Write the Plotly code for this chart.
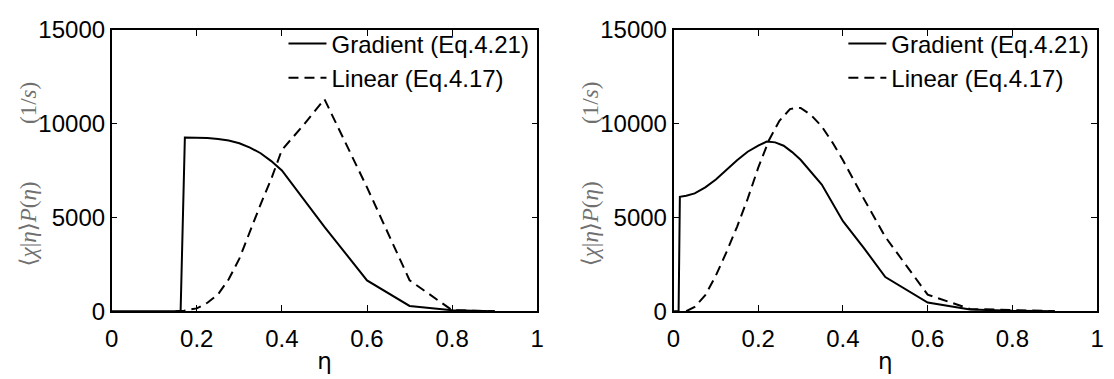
import plotly.graph_objects as go

# ---------------- data ----------------
eta_grad_left = [0, 0.05, 0.10, 0.15, 0.162, 0.172, 0.20, 0.225, 0.25, 0.275, 0.30, 0.325, 0.35, 0.375, 0.40, 0.50, 0.60, 0.70, 0.80, 0.90]
grad_left = [0, 0, 0, 0, 0, 9260, 9250, 9230, 9180, 9100, 8950, 8720, 8420, 8000, 7500, 4500, 1640, 280, 50, 0]

eta_lin_left = [0.15, 0.17, 0.20, 0.225, 0.25, 0.275, 0.30, 0.325, 0.35, 0.375, 0.40, 0.45, 0.50, 0.60, 0.70, 0.80, 0.90]
lin_left = [0, 30, 150, 450, 900, 1700, 2800, 4300, 5700, 7050, 8600, 9900, 11300, 6600, 1650, 50, 0]

eta_grad_right = [0, 0.012, 0.015, 0.03, 0.05, 0.075, 0.10, 0.125, 0.15, 0.175, 0.20, 0.22, 0.24, 0.26, 0.28, 0.30, 0.35, 0.40, 0.45, 0.50, 0.60, 0.70, 0.80, 0.90]
grad_right = [0, 0, 6100, 6150, 6280, 6600, 7020, 7550, 8050, 8500, 8830, 9040, 9000, 8820, 8480, 8070, 6750, 4800, 3350, 1820, 460, 90, 20, 0]

eta_lin_right = [0.03, 0.05, 0.075, 0.10, 0.125, 0.15, 0.175, 0.20, 0.225, 0.25, 0.275, 0.29, 0.30, 0.325, 0.35, 0.375, 0.40, 0.45, 0.50, 0.55, 0.60, 0.70, 0.80, 0.90]
lin_right = [0, 230, 850, 1900, 3150, 4500, 5990, 7650, 9100, 10150, 10770, 10850, 10830, 10450, 9850, 9000, 8050, 5960, 3960, 2450, 880, 120, 40, 0]

x_ticks = [0, 0.2, 0.4, 0.6, 0.8, 1.0]
x_tick_labels = ["0", "0.2", "0.4", "0.6", "0.8", "1"]
y_ticks = [0, 5000, 10000, 15000]
y_tick_labels = ["0", "5000", "10000", "15000"]

name_grad = "Gradient (Eq.4.21)"
name_lin = "Linear (Eq.4.17)"
y_title = ("⟨<i>χ</i>|<i>η</i>⟩<i>P</i>(<i>η</i>)" + "&nbsp;" * 10 + "(1/<i>s</i>)")
x_title = "η"

# ---------------- figure ----------------
W, H = 1114, 379
fig = go.Figure()

dash_style = "10px,6px"
line_w = 2

fig.add_trace(go.Scatter(x=eta_grad_left, y=grad_left, mode="lines", name=name_grad,
                         line=dict(color="black", width=line_w), xaxis="x", yaxis="y", legend="legend"))
fig.add_trace(go.Scatter(x=eta_lin_left, y=lin_left, mode="lines", name=name_lin,
                         line=dict(color="black", width=line_w, dash=dash_style), xaxis="x", yaxis="y", legend="legend"))
fig.add_trace(go.Scatter(x=eta_grad_right, y=grad_right, mode="lines", name=name_grad,
                         line=dict(color="black", width=line_w), xaxis="x2", yaxis="y2", legend="legend2"))
fig.add_trace(go.Scatter(x=eta_lin_right, y=lin_right, mode="lines", name=name_lin,
                         line=dict(color="black", width=line_w, dash=dash_style), xaxis="x2", yaxis="y2", legend="legend2"))

tick_font = dict(family="Liberation Sans, Arial, sans-serif", size=24, color="black")

x_dom_left = [106 / W, 537 / W]
x_dom_right = [675 / W, 1104 / W]
y_dom = [(H - 320) / H, (H - 17) / H]

def xaxis_cfg(anchor, dom):
    return dict(domain=dom, anchor=anchor, range=[0, 1], tickmode="array", tickvals=x_ticks,
                ticktext=x_tick_labels, ticks="inside", ticklen=6, tickwidth=1.2, tickcolor="black",
                showline=True, linecolor="black", linewidth=1.5, mirror="ticks", showgrid=False,
                zeroline=False, tickfont=tick_font, ticklabelstandoff=5,
                title=dict(text=x_title, font=dict(family="DejaVu Sans, sans-serif", size=23, color="black"), standoff=2))

def yaxis_cfg(anchor):
    return dict(domain=y_dom, anchor=anchor, range=[0, 15000], tickmode="array", tickvals=y_ticks,
                ticktext=y_tick_labels, ticks="inside", ticklen=6, tickwidth=1.2, tickcolor="black",
                showline=True, linecolor="black", linewidth=1.5, mirror="ticks", showgrid=False,
                zeroline=False, tickfont=tick_font)

legend_font = dict(family="Liberation Sans, Arial, sans-serif", size=24, color="black")

def legend_cfg(xpix, ypix):
    return dict(x=xpix / W, y=(H - ypix) / H, xanchor="left", yanchor="top", font=legend_font,
                bgcolor="rgba(0,0,0,0)", borderwidth=0, itemwidth=38, tracegroupgap=0,
                traceorder="normal")

fig.update_layout(
    width=W, height=H,
    margin=dict(l=0, r=0, t=0, b=0),
    paper_bgcolor="white", plot_bgcolor="white",
    xaxis=xaxis_cfg("y", x_dom_left),
    yaxis=yaxis_cfg("x"),
    xaxis2=xaxis_cfg("y2", x_dom_right),
    yaxis2=yaxis_cfg("x2"),
    legend=legend_cfg(280, 8),
    legend2=legend_cfg(847, 8),
    showlegend=True,
)

title_font = dict(family="Liberation Serif, DejaVu Serif, serif", size=23, color="#707070")
for xpix in (22, 591):
    fig.add_annotation(x=xpix / W, y=(H - 172) / H, xref="paper", yref="paper", text=y_title,
                       textangle=-90, showarrow=False, font=title_font, xanchor="center", yanchor="middle")

fig.write_html("out.html")
